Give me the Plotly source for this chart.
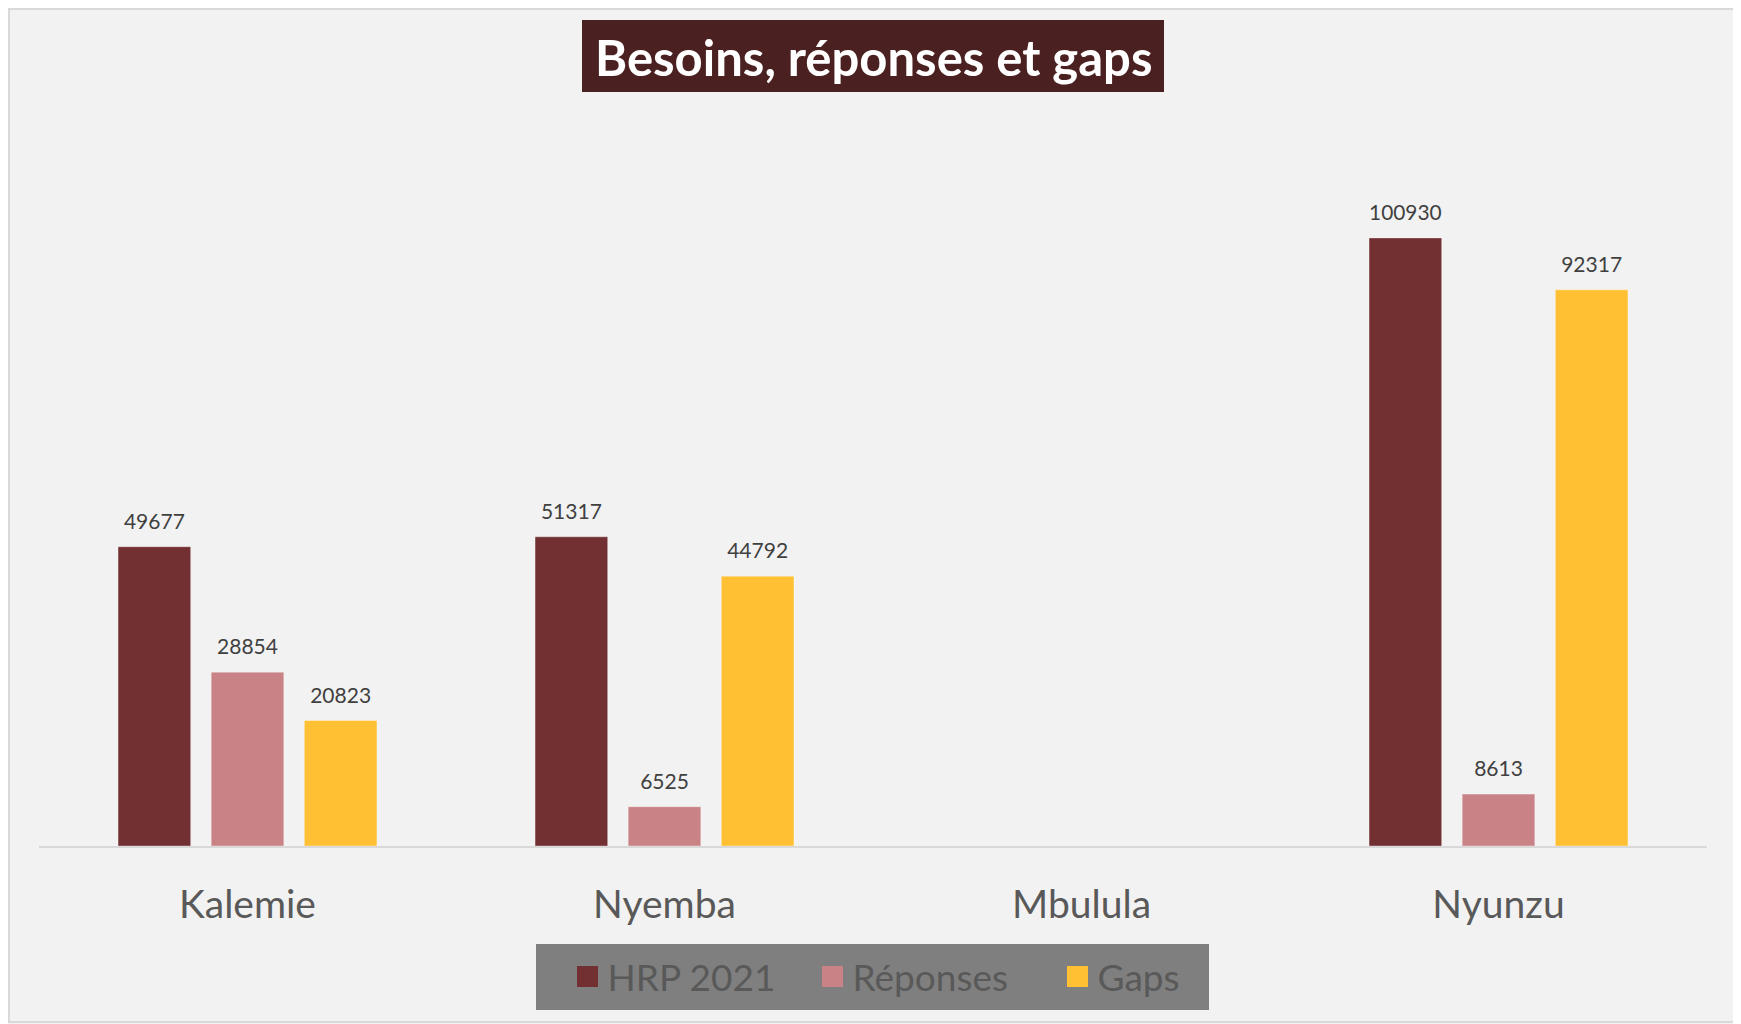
import plotly.graph_objects as go

categories = ["Kalemie", "Nyemba", "Mbulula", "Nyunzu"]
hrp_2021 = [49677, 51317, None, 100930]
reponses = [28854, 6525, None, 8613]
gaps = [20823, 44792, None, 92317]

series = [
    ("HRP 2021", hrp_2021, "#733033"),
    ("Réponses", reponses, "#C98386"),
    ("Gaps", gaps, "#FFC034"),
]

# page offset (browser body margin)
O = 8
W, H = 1741 - O, 1024 - O
L, R, T, B = 39 - O, 34, 123 - O, 178
pw = W - L - R
ph = H - T - B


def px_x(p):
    return (p - O - L) / pw


def px_y(p):
    return (H - B - (p - O)) / ph


FONT = "Lato, Open Sans, sans-serif"

fig = go.Figure()
for name, vals, col in series:
    fig.add_trace(go.Bar(
        name=name, x=categories, y=vals,
        marker=dict(color=col, line=dict(color="rgba(255,255,255,0.35)", width=1)),
        text=["" if v is None else
              f"<span style='font-size:21px'>{v}</span><br><span style='color:rgba(0,0,0,0)'>.</span>"
              for v in vals],
        textposition="outside",
        textfont=dict(family=FONT, size=10, color="#404040"),
        cliponaxis=False,
        showlegend=False,
    ))

for name, vals, col in series:
    fig.add_trace(go.Scatter(
        name=name, x=[None], y=[None], mode="markers",
        marker=dict(symbol="square", size=16, color=col, line=dict(color=col, width=5)),
        showlegend=True,
    ))

fig.update_layout(
    width=W, height=H,
    margin=dict(l=L, r=R, t=T, b=B, pad=0),
    paper_bgcolor="#F2F2F2", plot_bgcolor="#F2F2F2",
    barmode="group", bargap=0.33, bargroupgap=0.22,
    showlegend=True,
    legend=dict(
        orientation="h", x=px_x(935), xanchor="center", y=px_y(977), yanchor="middle",
        bgcolor="rgba(0,0,0,0)", borderwidth=0,
        font=dict(family=FONT, size=37, color="#595959"),
        itemwidth=30, traceorder="normal", entrywidth=200, itemsizing="trace",
    ),
    xaxis=dict(
        range=[-0.5, 3.5], showline=True, linecolor="#D9D9D9", linewidth=2,
        ticks="", showgrid=False, zeroline=False,
        tickfont=dict(family=FONT, size=39, color="#595959"),
        ticklabelstandoff=23,
    ),
    yaxis=dict(range=[0, 120000], visible=False, showgrid=False, zeroline=False),
    font=dict(family=FONT),
)

# outer border
fig.add_shape(type="rect", xref="paper", yref="paper",
              x0=px_x(9), x1=px_x(1736), y0=px_y(1022), y1=px_y(9),
              line=dict(color="#D9D9D9", width=2), fillcolor="rgba(0,0,0,0)", layer="below")
# legend box
fig.add_shape(type="rect", xref="paper", yref="paper",
              x0=px_x(536), x1=px_x(1209), y0=px_y(1010), y1=px_y(944),
              line=dict(width=0), fillcolor="#7F7F7F", layer="below")
# title box
fig.add_shape(type="rect", xref="paper", yref="paper",
              x0=px_x(582), x1=px_x(1164), y0=px_y(92), y1=px_y(20),
              line=dict(width=0), fillcolor="#4B2021", layer="above")
fig.add_annotation(text="<b>Besoins, réponses et gaps</b>", xref="paper", yref="paper",
                   x=px_x(873), y=px_y(57), xanchor="center", yanchor="middle",
                   showarrow=False,
                   font=dict(family=FONT, size=49, color="#FFFFFF"))

fig.write_html("out.html")
